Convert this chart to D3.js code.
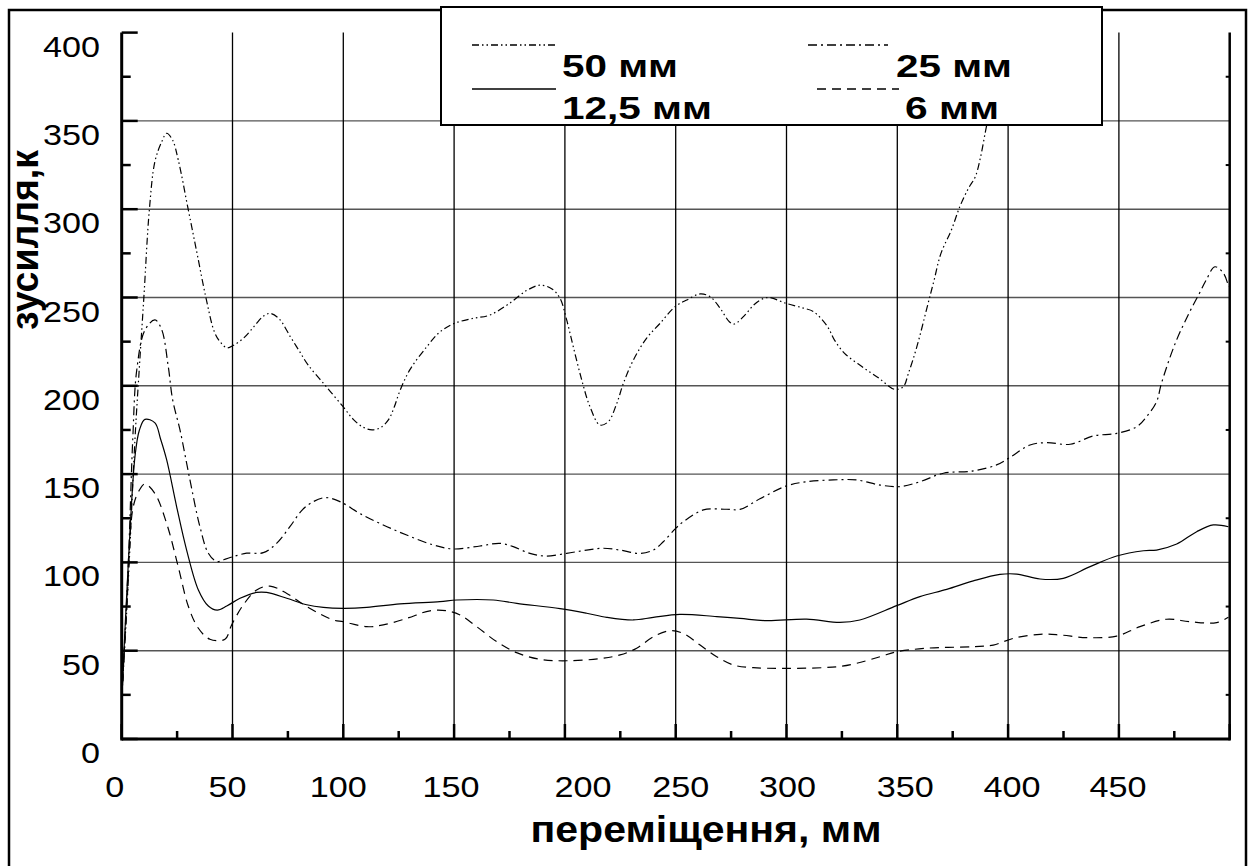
<!DOCTYPE html>
<html>
<head>
<meta charset="utf-8">
<script src="https://cdn.jsdelivr.net/npm/d3@7"></script>
<style>
  html, body { margin: 0; padding: 0; background: #fff; }
  svg { display: block; }
  text { font-family: "Liberation Sans", Arial, sans-serif; fill: #000; }
</style>
</head>
<body>
<svg id="chart" width="1248" height="866"></svg>
<script>
// Force (зусилля) versus displacement (переміщення) for four sample sizes.
const xTicks = [0, 50, 100, 150, 200, 250, 300, 350, 400, 450];
const yTicks = [0, 50, 100, 150, 200, 250, 300, 350, 400];

const series50 = [[0,22],[3,90],[6,170],[8,211],[10,250],[12.5,300],[15,327],[18,338],[20.3,343],[23,339],[25.5,328],[30,300],[34,275],[38,250],[42,230],[45,224],[47.5,221.5],[50.5,223],[55,227],[60,234],[64,239.5],[67,241],[71,238],[76,228],[80,220],[84,212],[92,200],[100,188],[104.5,181],[109,176.5],[113,175],[117,176.5],[120.5,181],[123,188],[125.5,197],[130,209],[137.6,222],[143.6,230.5],[150,235.3],[158.7,238.2],[166,240],[175,246.7],[182.8,254],[188.8,257],[194,255],[197.8,249.5],[200.8,237.3],[203.8,222],[207.6,203.3],[211.3,188.2],[215.8,177.8],[219.6,179.7],[223.4,190],[226.4,201.4],[230.9,214.6],[236.9,227],[242.9,235.3],[249.7,244.8],[255,248.6],[261,252],[265.5,250.5],[270,244],[274.2,236.3],[276.5,235],[281.2,240],[285,245.5],[288.2,248.6],[292,250],[299.8,246.7],[307.6,244],[312.2,242],[318.5,233.5],[321.6,226],[326.2,218.4],[334,210.9],[341.7,204.3],[348.8,198],[352.7,199.5],[355,207],[358.8,222],[363.5,244.7],[366.6,259.8],[369.7,275],[374.4,288.2],[378.2,301.4],[382.1,311.8],[385.2,318.4],[387.6,329.7],[389.9,344.8],[392,358],[395,380],[398,405]];

const series25 = [[0,22],[3,100],[5,170],[6.8,209],[10.5,231.6],[15,237.3],[18,232],[21,211],[23,192],[26.3,175],[30.8,146.7],[35.3,120.2],[39.1,105.2],[42.9,100.5],[46,101.5],[50.4,103.3],[56.4,105.2],[63.9,105.5],[69.9,110.8],[75.9,120.2],[81,129],[85,133.3],[91.7,136.7],[98.5,134.4],[107.5,127.7],[118,121.2],[128.6,115.5],[140.6,109.9],[149.6,107.6],[161.7,109.3],[170.7,110.8],[176.7,108.9],[184.2,105.1],[191,103.6],[200.8,105.1],[209.8,107],[217.3,108],[224.9,107],[233.9,105.1],[239.9,107],[244.4,111.7],[250,119.3],[253.4,123],[262.5,129.7],[273,130.1],[279,130],[288,136],[300,143.3],[309,145.7],[321.1,146.7],[331.7,146.7],[342.2,143.8],[351.2,142.9],[360.2,145.7],[370.8,150.5],[384.3,151.8],[394.8,155.2],[400.9,159.5],[409.9,166.5],[417.4,167.8],[428,166.9],[438.5,171.6],[449,173.1],[458,176.8],[462.5,182.5],[467,191],[469.2,201.4],[475.4,224],[481.6,241],[486.3,252.3],[489.4,259.9],[493.3,267.4],[497.2,263.7],[499.5,256.1]];

const series125 = [[0,22],[3,100],[6,160],[8,175],[10.5,181],[15,179],[17.5,170],[20.3,158],[24.8,131.5],[29.3,107],[34.6,84.4],[39.1,75.3],[43.1,73],[47.4,75.3],[53.4,79.7],[60.9,83],[65.4,83],[74.5,79.7],[83.5,76],[91,74.5],[100,74],[110.6,74.5],[125.6,76.5],[143.6,77.8],[151.2,78.7],[167.7,78.7],[178.3,76.8],[197.8,73.8],[209.8,71.2],[218.9,68.9],[230.9,67.4],[239.9,68.9],[251.9,70.6],[268.5,69.3],[279,68.3],[291,67],[309.1,67.9],[324.1,66],[333.1,67.4],[349.7,75.5],[360.2,80.6],[372.3,84.7],[384.3,89.5],[396.3,93.2],[403.9,93.4],[414.4,90.6],[424.9,91],[437,97.6],[449,103.6],[461.1,106.6],[467,107],[476.1,110.4],[485.1,117.4],[492.6,121.2],[499.4,120.2]];

const series6 = [[0,22],[2.5,80],[5.2,131.5],[8,141],[10.5,144.4],[15,139],[20.3,122],[25.5,97.6],[30.1,75],[34.6,62.7],[39.8,56.5],[46.6,56.5],[49.6,64.6],[54.9,76],[60.9,84.4],[66.9,86.6],[74.5,82.4],[83.5,75],[95.5,67.4],[100,66.4],[110.6,63.6],[118,64.6],[128.6,68.3],[139.1,72.6],[146.7,72.6],[152.7,70.2],[160.2,63.6],[169.2,55.1],[178.2,48.9],[188.8,45.1],[200.8,44.3],[215.8,45.5],[224.9,47.6],[232.4,51.4],[239.9,57.9],[247.4,61.3],[253.4,59.8],[261,53.2],[268.5,46.6],[276,41.9],[285,40.4],[300,40],[322.6,40.9],[331.7,42.9],[342.2,46.6],[349.7,49.4],[363.3,51.4],[384.3,52.3],[393.3,53.2],[402.4,57],[414.4,59.3],[423.5,58.9],[435.5,57.4],[449,58.3],[459.5,63.6],[471.5,67.8],[482.1,66.4],[494.1,65.9],[499.4,68.9]];

const seriesNames = ["50 мм", "25 мм", "12,5 мм", "6 мм"];
const seriesData = [series50, series25, series125, series6];
const seriesDash = ["7,3,1.5,3,1.5,3", "9,4,2,4", null, "9,6"];

// horizontal nudge (px) of individual x tick labels
const xLabelNudge = { 0: -7, 50: -5, 100: -5, 150: -3, 200: 18, 250: 5, 300: 1, 350: 8, 400: 4, 450: -1 };

const svg = d3.select("#chart");
const W = 1248, H = 866;
const plot = { left: 121.7, right: 1229.7, top: 32.6, bottom: 739 };

svg.append("rect").attr("width", W).attr("height", H).attr("fill", "#fff");

const x = d3.scaleLinear().domain([0, 500]).range([plot.left, plot.right]);
const y = d3.scaleLinear().domain([0, 400]).range([plot.bottom, plot.top]);

// outer frame
svg.append("rect")
  .attr("x", 9).attr("y", 10).attr("width", 1237).attr("height", 880)
  .attr("fill", "none").attr("stroke", "#000").attr("stroke-width", 2.5);

// grid
const grid = svg.append("g");
grid.selectAll("line.h").data(yTicks.filter(v => v > 0 && v < 400)).join("line")
  .attr("x1", plot.left).attr("x2", plot.right)
  .attr("y1", d => y(d)).attr("y2", d => y(d))
  .attr("stroke", "#555").attr("stroke-width", 1.4);
grid.selectAll("line.v").data(xTicks.filter(v => v > 0)).join("line")
  .attr("y1", plot.top).attr("y2", plot.bottom)
  .attr("x1", d => x(d)).attr("x2", d => x(d))
  .attr("stroke", "#000").attr("stroke-width", 1.3);

// curves
svg.append("clipPath").attr("id", "clip").append("rect")
  .attr("x", plot.left).attr("y", plot.top)
  .attr("width", plot.right - plot.left).attr("height", plot.bottom - plot.top);

const line = d3.line().x(d => x(d[0])).y(d => y(d[1])).curve(d3.curveCatmullRom.alpha(0.5));
const curves = svg.append("g").attr("clip-path", "url(#clip)");
seriesData.forEach((s, i) => {
  curves.append("path").datum(s)
    .attr("d", line)
    .attr("fill", "none").attr("stroke", "#000").attr("stroke-width", 1.2)
    .attr("stroke-dasharray", seriesDash[i]);
});

// axes with inward ticks
const axes = svg.append("g").attr("stroke", "#000");
axes.append("line").attr("x1", plot.left).attr("x2", plot.left).attr("y1", plot.top).attr("y2", plot.bottom + 1.5).attr("stroke-width", 3);
axes.append("line").attr("x1", plot.left).attr("x2", plot.right).attr("y1", plot.bottom).attr("y2", plot.bottom).attr("stroke-width", 3);
axes.append("line").attr("x1", plot.right).attr("x2", plot.right).attr("y1", plot.top).attr("y2", plot.bottom + 1.5).attr("stroke-width", 2.5);

const yMinor = d3.range(25, 400, 50);
const xMinor = d3.range(25, 500, 50);
axes.selectAll("line.ym").data(yTicks).join("line")
  .attr("x1", plot.left).attr("x2", plot.left + 16)
  .attr("y1", d => y(d)).attr("y2", d => y(d)).attr("stroke-width", 2.5);
axes.selectAll("line.yn").data(yMinor).join("line")
  .attr("x1", plot.left).attr("x2", plot.left + 9)
  .attr("y1", d => y(d)).attr("y2", d => y(d)).attr("stroke-width", 2.5);
axes.selectAll("line.rn").data(yMinor).join("line")
  .attr("x1", plot.right).attr("x2", plot.right - 4)
  .attr("y1", d => y(d)).attr("y2", d => y(d)).attr("stroke-width", 2);
axes.selectAll("line.xm").data(xTicks.concat([500])).join("line")
  .attr("y1", plot.bottom).attr("y2", plot.bottom - 15)
  .attr("x1", d => x(d)).attr("x2", d => x(d)).attr("stroke-width", 2.5);
axes.selectAll("line.xn").data(xMinor).join("line")
  .attr("y1", plot.bottom).attr("y2", plot.bottom - 8)
  .attr("x1", d => x(d)).attr("x2", d => x(d)).attr("stroke-width", 2.5);

// tick labels
const digitW = 19;
svg.append("g").selectAll("text").data(yTicks).join("text")
  .attr("x", 100).attr("y", d => y(d) + 24)
  .attr("text-anchor", "end").attr("font-size", 30)
  .attr("textLength", d => String(d).length * digitW).attr("lengthAdjust", "spacingAndGlyphs")
  .text(d => d);
svg.append("g").selectAll("text").data(xTicks).join("text")
  .attr("x", d => x(d) + (xLabelNudge[d] || 0)).attr("y", plot.bottom + 58)
  .attr("text-anchor", "middle").attr("font-size", 30)
  .attr("textLength", d => String(d).length * digitW).attr("lengthAdjust", "spacingAndGlyphs")
  .text(d => d);

// axis titles
svg.append("text")
  .attr("x", 706).attr("y", 842).attr("text-anchor", "middle")
  .attr("font-size", 36).attr("font-weight", "bold")
  .attr("textLength", 351).attr("lengthAdjust", "spacingAndGlyphs")
  .text("переміщення, мм");
svg.append("text")
  .attr("transform", "translate(38,240) rotate(-90)").attr("text-anchor", "middle")
  .attr("font-size", 38).attr("font-weight", "bold")
  .attr("textLength", 180).attr("lengthAdjust", "spacingAndGlyphs")
  .text("зусилля,к");

// legend
const lg = svg.append("g");
lg.append("rect").attr("x", 441).attr("y", 7).attr("width", 661).attr("height", 118)
  .attr("fill", "#fff").attr("stroke", "#000").attr("stroke-width", 2);
const legendItems = [
  { i: 0, x1: 472, x2: 556, ly: 45, tx: 562, ty: 77, tw: 116 },
  { i: 1, x1: 808, x2: 888, ly: 45, tx: 896, ty: 77, tw: 116 },
  { i: 2, x1: 472, x2: 556, ly: 89, tx: 562, ty: 119, tw: 150 },
  { i: 3, x1: 817, x2: 899, ly: 89, tx: 905, ty: 119, tw: 94 }
];
legendItems.forEach(it => {
  lg.append("line").attr("x1", it.x1).attr("x2", it.x2).attr("y1", it.ly).attr("y2", it.ly)
    .attr("stroke", "#000").attr("stroke-width", 1.3).attr("stroke-dasharray", seriesDash[it.i]);
  lg.append("text").attr("x", it.tx).attr("y", it.ty)
    .attr("font-size", 31).attr("font-weight", "bold")
    .attr("textLength", it.tw).attr("lengthAdjust", "spacingAndGlyphs")
    .text(seriesNames[it.i]);
});
</script>
</body>
</html>
